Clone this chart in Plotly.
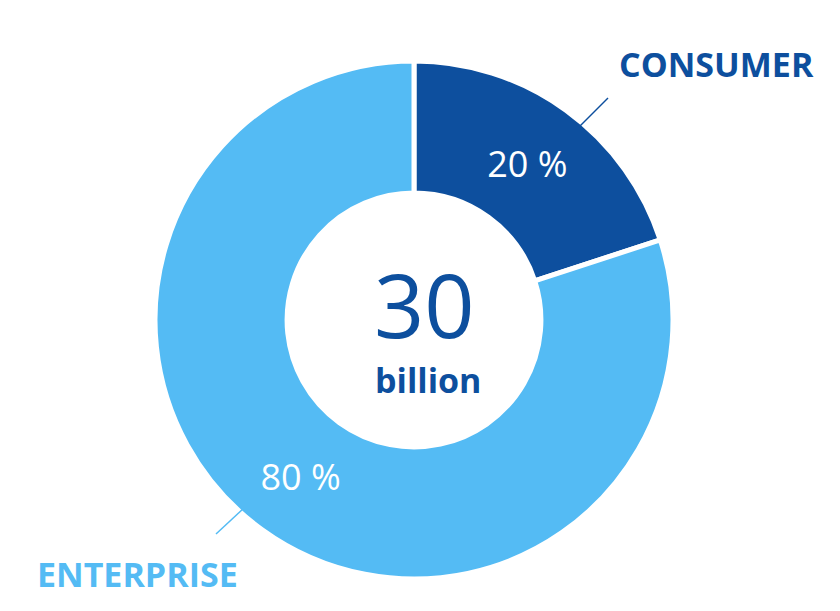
import plotly.graph_objects as go

segments = ["CONSUMER", "ENTERPRISE"]
shares = [20, 80]
colors = ["#0d4f9e", "#54bbf4"]
total_value = "30"
total_unit = "billion"

W, H = 840, 611
cx, cy, r = 406, 299, 259  # cy measured from bottom

fig = go.Figure()
fig.add_trace(go.Pie(
    labels=segments,
    values=shares,
    hole=0.49,
    sort=False,
    direction="clockwise",
    rotation=0,
    marker=dict(colors=colors, line=dict(color="white", width=5)),
    texttemplate="%{value} %",
    textposition="inside",
    insidetextorientation="horizontal",
    textfont=dict(family="Open Sans", size=36, color="white"),
    domain=dict(x=[(cx - r) / W, (cx + r) / W], y=[(cy - r) / H, (cy + r) / H]),
    showlegend=False,
    hoverinfo="label+percent",
))

def ann(text, x, y, size, color):
    return dict(text=text, x=x / W, y=1 - y / H, xref="paper", yref="paper",
                xanchor="center", yanchor="middle", showarrow=False,
                font=dict(family="Open Sans", size=size, color=color))

fig.update_layout(
    width=W, height=H,
    margin=dict(l=0, r=0, t=0, b=0),
    paper_bgcolor="white",
    plot_bgcolor="white",
    annotations=[
        ann(total_value, 416, 296, 88, colors[0]),
        ann("<b>" + total_unit + "</b>", 420, 372, 34, colors[0]),
        ann("<b>" + segments[0] + "</b>", 708, 56, 34, colors[0]),
        ann("<b>" + segments[1] + "</b>", 129, 566, 34, colors[1]),
    ],
    shapes=[
        dict(type="line", xref="paper", yref="paper", x0=600 / W, y0=1 - 90 / H, x1=572 / W, y1=1 - 118 / H,
             line=dict(color=colors[0], width=1.5)),
        dict(type="line", xref="paper", yref="paper", x0=236 / W, y0=1 - 500 / H, x1=208 / W, y1=1 - 526 / H,
             line=dict(color=colors[1], width=1.5)),
    ],
)

fig.write_html("out.html")
